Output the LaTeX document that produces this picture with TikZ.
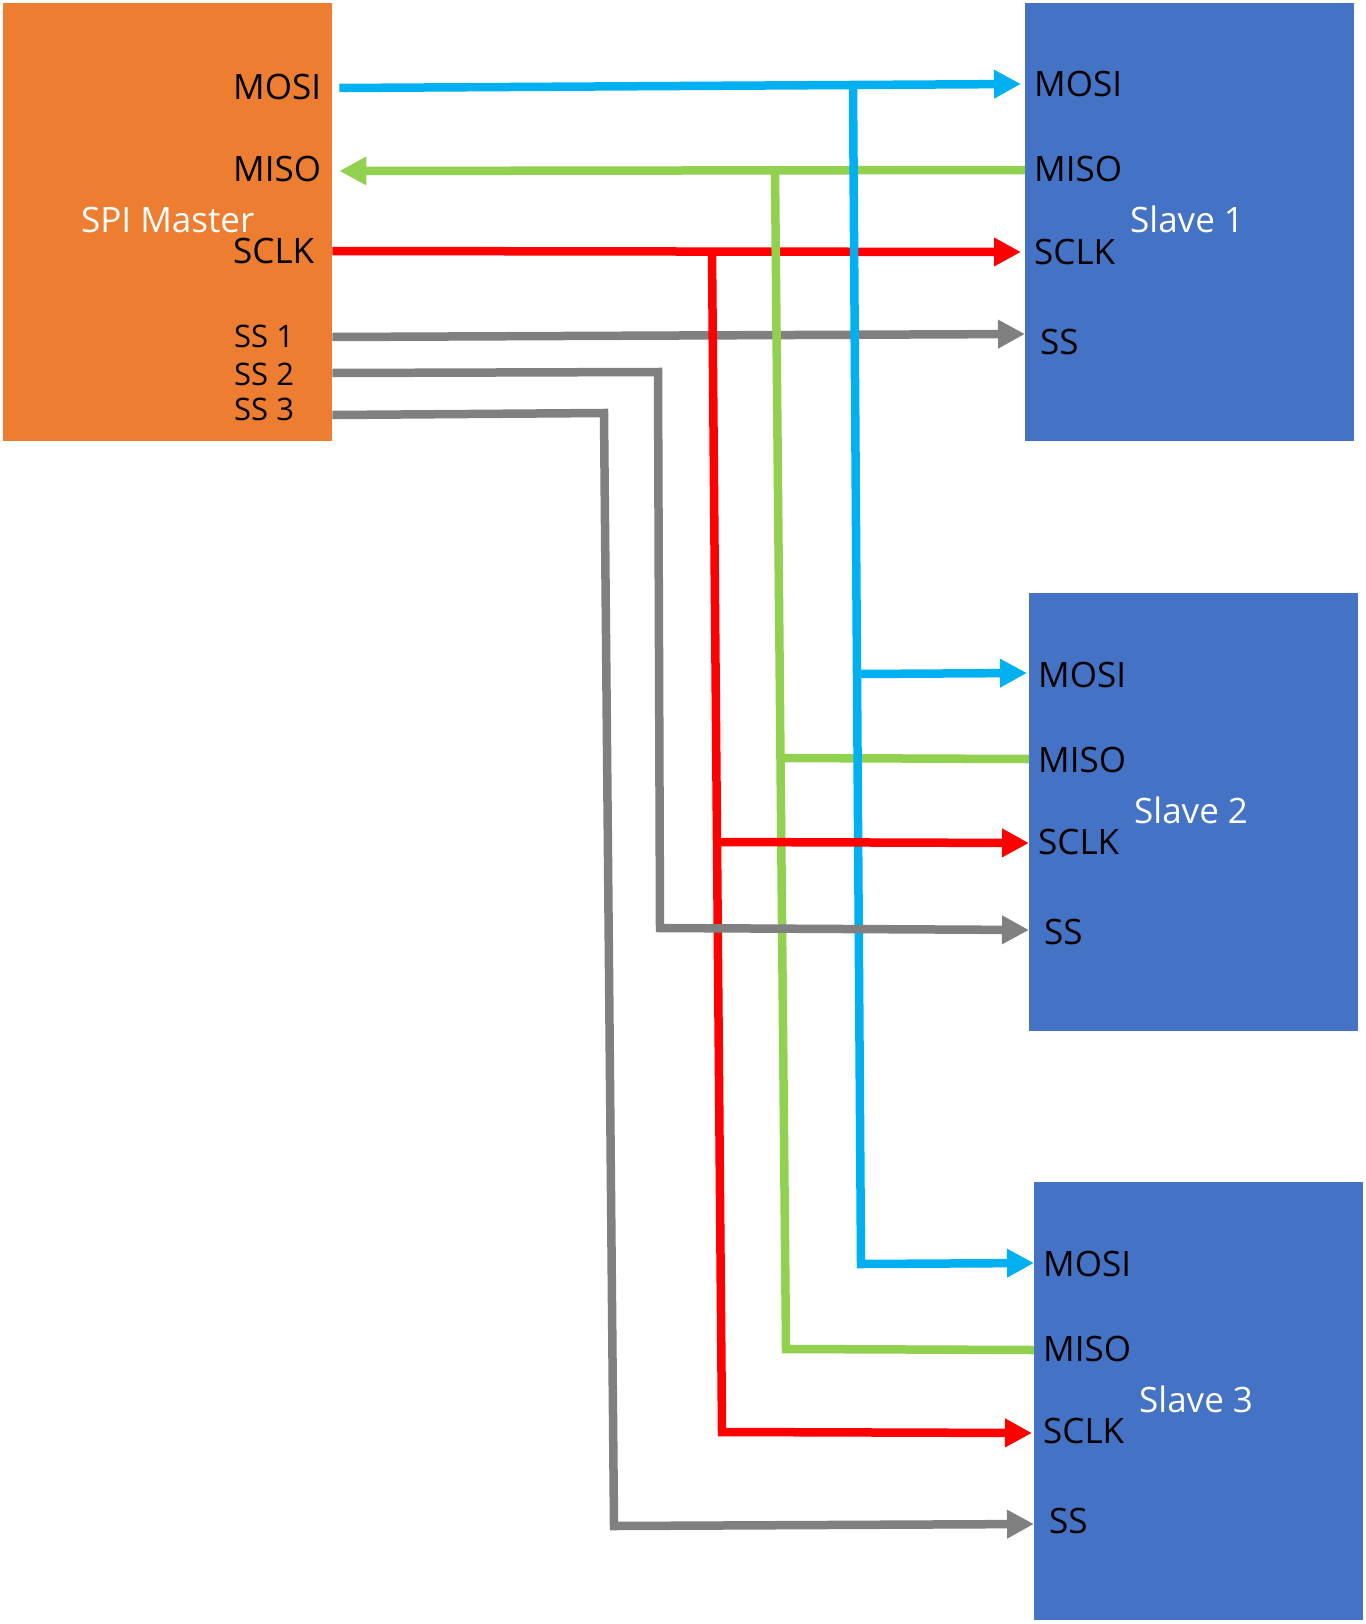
\documentclass[tikz,border=0pt]{standalone}
\usepackage{fontspec}
\setmainfont{Open Sans}
\usetikzlibrary{arrows.meta,positioning}
\definecolor{masterorange}{HTML}{ED7D31}
\definecolor{slaveblue}{HTML}{4472C4}
\definecolor{mosiblue}{HTML}{00B0F0}
\definecolor{misogreen}{HTML}{92D050}
\definecolor{sclkred}{HTML}{FF0000}
\definecolor{ssgray}{HTML}{808080}
\begin{document}
\begin{tikzpicture}[
    x=1pt, y=-1pt,
    box/.style={inner sep=0pt, minimum width=329pt, minimum height=438pt, anchor=north west},
    portname/.style={anchor=base west, inner sep=0pt, font=\fontsize{35}{42}\selectfont},
    ssname/.style={portname, font=\fontsize{31}{37}\selectfont},
    boxtitle/.style={portname, text=white},
    signal/.style={line width=8.5pt, -{Triangle[length=27pt,width=27pt]}},
    wire/.style={line width=8.5pt},
  ]
  \useasboundingbox (0,0) rectangle (1365,1624);

  \node [box, fill=masterorange] (master) at (3,3) {};
  \node [boxtitle] (master title) at ([shift={(78,230)}]master.north west) {SPI Master};
  \node [portname] (master mosi label) at ([shift={(230,97)}]master.north west) {MOSI};
  \node [portname] (master miso label) at ([shift={(230,179)}]master.north west) {MISO};
  \node [portname] (master sclk label) at ([shift={(230,260)}]master.north west) {SCLK};
  \foreach \n/\y in {1/344,2/382,3/417}{
    \node [ssname] (master ss\n label) at ([shift={(231,\y)}]master.north west) {SS \n};
  }

  \foreach \s/\x/\y in {1/1025/3,2/1029/593,3/1034/1182}{
    \node [box, fill=slaveblue] (slave\s) at (\x,\y) {};
    \node [boxtitle] (slave\s title) at ([shift={(105,230)}]slave\s.north west) {Slave \s};
    \node [portname] (slave\s mosi label) at ([shift={(9,94)}]slave\s.north west) {MOSI};
    \node [portname] (slave\s miso label) at ([shift={(9,179)}]slave\s.north west) {MISO};
    \node [portname] (slave\s sclk label) at ([shift={(9,261)}]slave\s.north west) {SCLK};
    \node [portname] (slave\s ss label) at ([shift={(15,351)}]slave\s.north west) {SS};
  }

  \coordinate (master mosi) at ([shift={(7,85)}]master.north east);
  \coordinate (master miso) at ([shift={(7,168)}]master.north east);
  \coordinate (master sclk) at ([shift={(0,248)}]master.north east);
  \coordinate (master ss1) at ([shift={(0,334)}]master.north east);
  \coordinate (master ss2) at ([shift={(0,370)}]master.north east);
  \coordinate (master ss3) at ([shift={(0,412)}]master.north east);

  \coordinate (slave1 mosi) at (1021,84);
  \coordinate (slave1 miso) at (1025,170);
  \coordinate (slave1 sclk) at (1021,252);
  \coordinate (slave1 ss) at (1025,334);
  \coordinate (slave2 mosi) at (1027,673);
  \coordinate (slave2 miso) at (1029,759);
  \coordinate (slave2 sclk) at (1029,843);
  \coordinate (slave2 ss) at (1029,930);
  \coordinate (slave3 mosi) at (1034,1263);
  \coordinate (slave3 miso) at (1034,1350);
  \coordinate (slave3 sclk) at (1032,1433);
  \coordinate (slave3 ss) at (1034,1524);

  \coordinate (mosi top) at (853,86);
  \coordinate (mosi tap) at (857,674);
  \coordinate (mosi corner) at (861,1264);
  \coordinate (miso top) at (775,171);
  \coordinate (miso tap) at (780,758);
  \coordinate (miso corner) at (786,1349);
  \coordinate (sclk top) at (712,251);
  \coordinate (sclk tap) at (716,842);
  \coordinate (sclk corner) at (722,1432);
  \coordinate (ss2 turn) at (658,372);
  \coordinate (ss2 corner) at (660,928);
  \coordinate (ss3 turn) at (604,413);
  \coordinate (ss3 corner) at (614,1526);

  \draw [signal, ssgray] (master ss1) -- (slave1 ss);
  \draw [signal, sclkred] (master sclk) -- (slave1 sclk);
  \draw [signal, misogreen] (slave1 miso) -- (master miso);
  \draw [signal, mosiblue] (master mosi) -- (slave1 mosi);

  \draw [signal, sclkred]
    (sclk top)
    -- (sclk corner)
    -- (slave3 sclk)
  ;
  \draw [wire, misogreen]
    (miso top)
    -- (miso corner)
    -- (slave3 miso)
  ;
  \draw [wire, misogreen] (miso tap) -- (slave2 miso);
  \draw [signal, mosiblue]
    (mosi top)
    -- (mosi corner)
    -- (slave3 mosi)
  ;
  \draw [signal, mosiblue] (mosi tap) -- (slave2 mosi);
  \draw [signal, sclkred] (sclk tap) -- (slave2 sclk);

  \draw [signal, ssgray]
    (master ss2)
    -- (ss2 turn)
    -- (ss2 corner)
    -- (slave2 ss)
  ;
  \draw [signal, ssgray]
    (master ss3)
    -- (ss3 turn)
    -- (ss3 corner)
    -- (slave3 ss)
  ;
\end{tikzpicture}
\end{document}
